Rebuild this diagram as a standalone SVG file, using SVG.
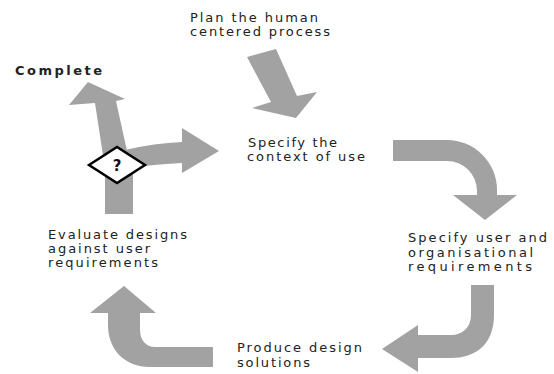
<svg xmlns="http://www.w3.org/2000/svg" width="554" height="374" viewBox="0 0 554 374">
<style>
.lbl{font-family:"DejaVu Sans","Verdana",sans-serif;font-size:13px;fill:#222}
.bold{font-weight:bold}
.arr{fill:#a2a2a2;stroke:none}
</style>
<rect width="554" height="374" fill="#fff"/>
<g id="connectors">
<polygon class="arr" points="247,57 276,49 297,96 317,92 296,118 252,108 271,102"/>
<polygon class="arr" points="104,162 95,103 69,105 88,82 125,99 116,101 129,160"/>
<path class="arr" d="M125,150 Q155,143 182,142 L182,128 L219,151 L182,173 L182,163 Q160,164 125,168 Z"/>
<rect class="arr" x="105" y="170" width="28" height="44"/>
<path class="arr" d="M393,140 L447,140 A50,50 0 0 1 497,190 L497,195 L517,195 L485,220 L453,195 L477,195 L477,191 A30,30 0 0 0 447,161 L393,161 Z"/>
<path class="arr" d="M471,285 L494,285 L494,315 C494,345 475,358 451,358 L418,358 L418,372 L382,349 L418,325 L418,335 L451,335 C463,335 471,327 471,315 Z"/>
<path class="arr" d="M213,347 L155,347 C146,347 140,340 140,330 L140,313 L156,313 L124,286 L90,313 L108,313 L108,325 C108,350 125,367 150,367 L213,367 Z"/>
</g>
<g id="decision">
<polygon points="89,165 117,147 145,165 117,183" fill="#fff" stroke="#000" stroke-width="2.5"/>
<text x="117" y="171" text-anchor="middle" font-family="DejaVu Sans,sans-serif" font-size="15" font-weight="bold" fill="#111">?</text>
</g>
<g id="plan">
<text class="lbl" x="190" y="22" textLength="128" lengthAdjust="spacing">Plan the human</text>
<text class="lbl" x="190" y="36" textLength="140" lengthAdjust="spacing">centered process</text>
</g>
<g id="complete">
<text class="lbl bold" x="15" y="75" textLength="87" lengthAdjust="spacing">Complete</text>
</g>
<g id="context">
<text class="lbl" x="248" y="147" textLength="89" lengthAdjust="spacing">Specify the</text>
<text class="lbl" x="247" y="161" textLength="118" lengthAdjust="spacing">context of use</text>
</g>
<g id="requirements">
<text class="lbl" x="408" y="242" textLength="139" lengthAdjust="spacing">Specify user and</text>
<text class="lbl" x="408" y="257" textLength="125" lengthAdjust="spacing">organisational</text>
<text class="lbl" x="408" y="271" textLength="124" lengthAdjust="spacing">requirements</text>
</g>
<g id="produce">
<text class="lbl" x="237" y="352" textLength="125" lengthAdjust="spacing">Produce design</text>
<text class="lbl" x="237" y="367" textLength="73" lengthAdjust="spacing">solutions</text>
</g>
<g id="evaluate">
<text class="lbl" x="48" y="239" textLength="139" lengthAdjust="spacing">Evaluate designs</text>
<text class="lbl" x="48" y="253" textLength="102" lengthAdjust="spacing">against user</text>
<text class="lbl" x="48" y="267" textLength="110" lengthAdjust="spacing">requirements</text>
</g>
</svg>
